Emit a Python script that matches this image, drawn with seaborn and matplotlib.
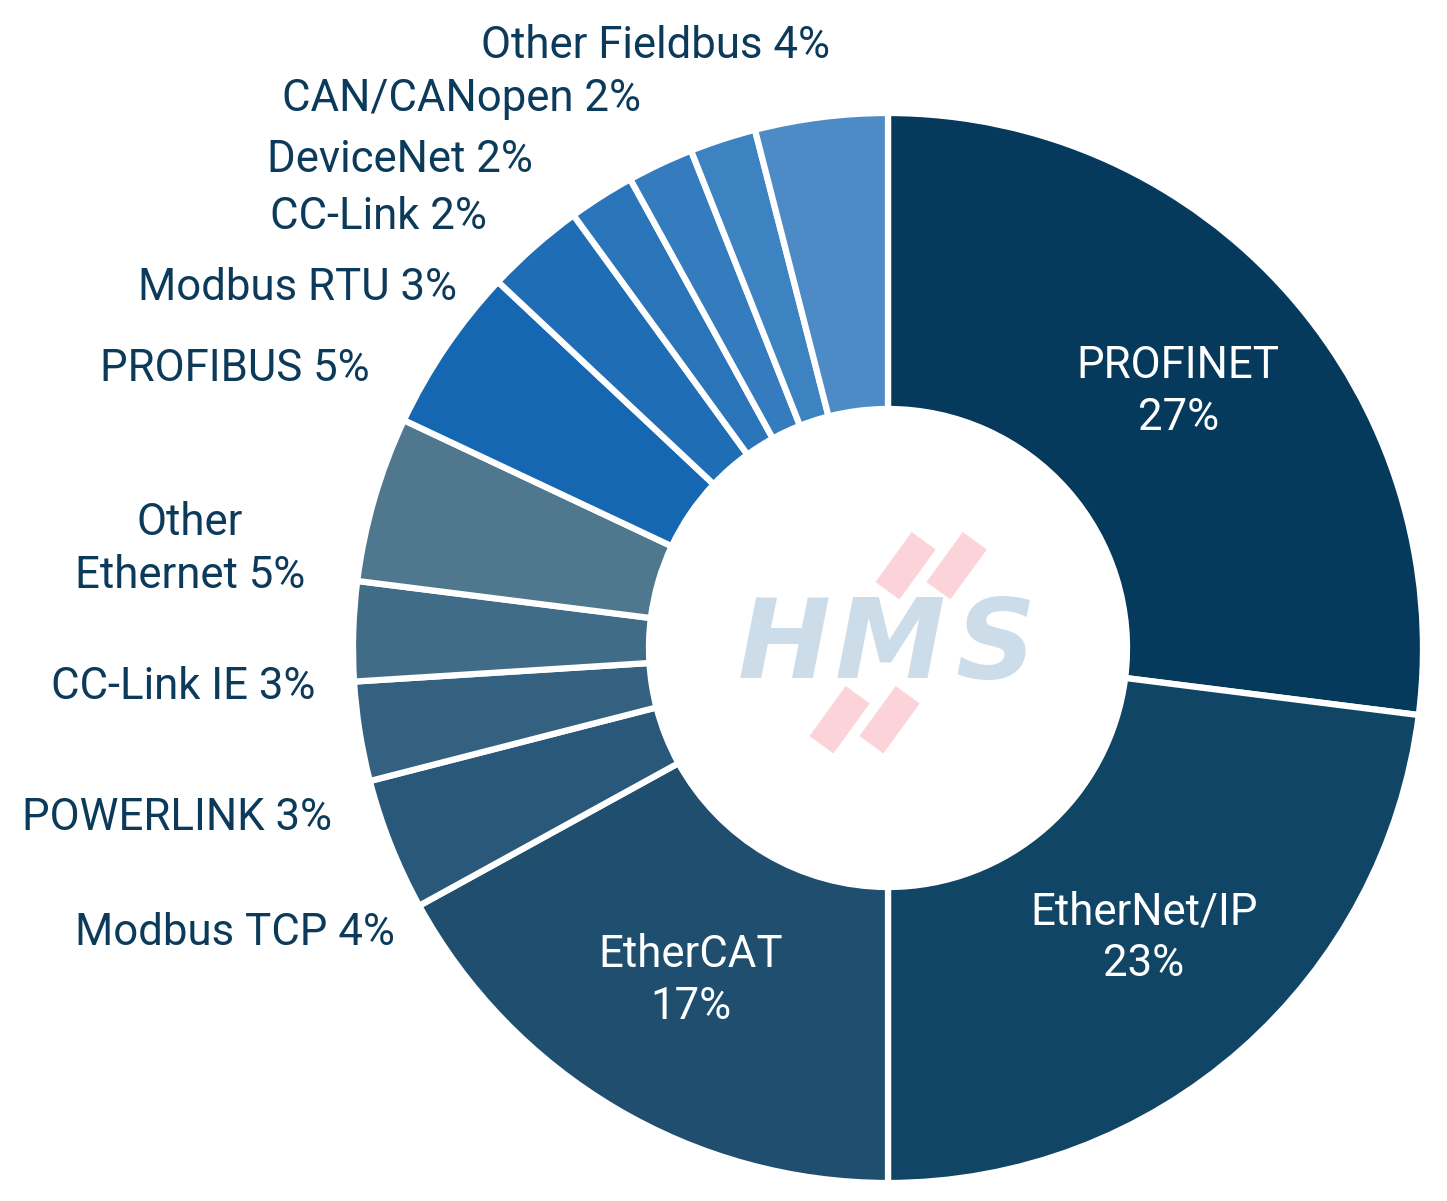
import matplotlib
matplotlib.use("Agg")
import matplotlib.pyplot as plt
import seaborn as sns
import numpy as np

sns.set_theme(style="white")
plt.rcParams['font.family'] = ['Roboto', 'DejaVu Sans']

# ---------------- data ----------------
networks = ["PROFINET", "EtherNet/IP", "EtherCAT", "Modbus TCP", "POWERLINK",
            "CC-Link IE", "Other Ethernet", "PROFIBUS", "Modbus RTU", "CC-Link",
            "DeviceNet", "CAN/CANopen", "Other Fieldbus"]
shares = [27, 23, 17, 4, 3, 3, 5, 5, 3, 2, 2, 2, 4]
colors = ["#063A5C", "#114566", "#1F4E6E", "#29587A", "#33617F", "#416C88",
          "#4F778E", "#1567B2", "#1F6DB5", "#2A74B9", "#347CBE", "#3D83C2",
          "#4D8BC6"]
inside = ["PROFINET", "EtherNet/IP", "EtherCAT"]

# ---------------- layout (pixel-like coords, y up) ----------------
W, H = 1447, 1201
cx, cy = 888, H - 648
R_out, R_in = 535, 239
text_color = "#0C3A5A"
fs = 31.5

# outside label anchors: (x, baseline y from top, ha)
outside_pos = {
    "Other Fieldbus": (830, 58, "right"),
    "CAN/CANopen": (641, 111, "right"),
    "DeviceNet": (533, 172, "right"),
    "CC-Link": (487, 229, "right"),
    "Modbus RTU": (457, 300, "right"),
    "PROFIBUS": (370, 381, "right"),
    "Other Ethernet": (190, 588, "center"),
    "CC-Link IE": (315, 699, "right"),
    "POWERLINK": (332, 830, "right"),
    "Modbus TCP": (395, 945, "right"),
}

fig = plt.figure(figsize=(W / 100, H / 100), dpi=100)
ax = fig.add_axes([0, 0, 1, 1])

wedges, _ = ax.pie(shares, colors=colors, startangle=90, counterclock=False,
                   center=(cx, cy), radius=R_out,
                   wedgeprops=dict(width=R_out - R_in, edgecolor="white",
                                   linewidth=4.5))
ax.set_xlim(0, W)
ax.set_ylim(0, H)
ax.set_aspect("equal")
ax.axis("off")

# inside labels at mid-ring radius
r_mid = (R_out + R_in) / 2
for w, name, val in zip(wedges, networks, shares):
    if name in inside:
        ang = np.deg2rad((w.theta1 + w.theta2) / 2)
        ax.text(cx + r_mid * np.cos(ang), cy + r_mid * np.sin(ang),
                f"{name}\n{val}%", ha="center", va="center", color="white",
                fontsize=fs, linespacing=1.31)

for name, val in zip(networks, shares):
    if name in outside_pos:
        x, yb, ha = outside_pos[name]
        label = f"{name} {val}%"
        if name == "Other Ethernet":
            label = f"Other\nEthernet {val}%"
        ax.text(x, H - yb, label, ha=ha, va="baseline", color=text_color,
                fontsize=fs, multialignment="center", linespacing=1.32)

# watermark logo
for ch, lx in [("H", 784), ("M", 890), ("S", 995)]:
    ax.text(lx, H - 647, ch, ha="center", va="center", color="#CCDDE9",
            fontsize=80, fontweight="bold", fontstyle="oblique",
            family="DejaVu Sans", zorder=2)
for bx, by in [(904, 568), (955, 568), (838, 722), (888, 722)]:
    ax.text(bx, H - by, "\u25AE", ha="center", va="center", color="#FBD3D9",
            fontsize=58, family="DejaVu Sans", rotation=-36,
            rotation_mode="anchor", zorder=1)

fig.savefig("out.png", dpi=100, facecolor="white")
